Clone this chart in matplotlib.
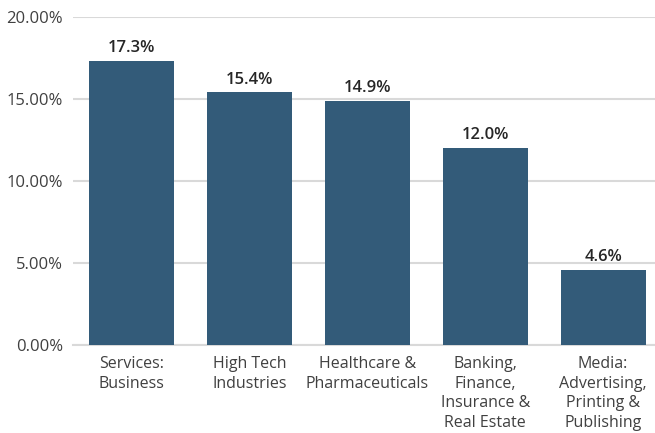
import matplotlib
matplotlib.use('Agg')
import matplotlib.pyplot as plt

categories = ['Services:\nBusiness', 'High Tech\nIndustries', 'Healthcare &\nPharmaceuticals',
              'Banking,\nFinance,\nInsurance &\nReal Estate', 'Media:\nAdvertising,\nPrinting &\nPublishing']
values = [17.3, 15.4, 14.9, 12.0, 4.6]
yticks = [0, 5, 10, 15, 20]

plt.rcParams['font.family'] = ['Open Sans', 'DejaVu Sans']

fig = plt.figure(figsize=(6.55, 4.33), dpi=100)
ax = fig.add_axes([72.5 / 655, 88 / 433, (655 - 72.5) / 655, 328 / 433])

x = range(len(values))
bars = ax.bar(x, values, width=0.72, color='#335b79', zorder=3)
for b, v in zip(bars, values):
    ax.text(b.get_x() + b.get_width() / 2, v + 0.3, '%.1f%%' % v, ha='center', va='bottom',
            fontsize=12, fontweight='semibold', color='#262626')

ax.set_xlim(-0.5, 4.44)
ax.set_ylim(0, 20)
ax.set_yticks(yticks)
ax.set_yticklabels(['%.2f%%' % t for t in yticks], fontsize=12, color='#404040')
ax.set_xticks(list(x))
ax.set_xticklabels(categories, fontsize=11.5, color='#404040', linespacing=1.3)
ax.tick_params(length=0, pad=8)
ax.tick_params(axis='y', pad=7)
ax.grid(axis='y', color='#d9d9d9', linewidth=1.5, zorder=0)
for s in ['top', 'right', 'left']:
    ax.spines[s].set_visible(False)
ax.spines['bottom'].set_color('#d9d9d9')
ax.spines['bottom'].set_linewidth(1.5)

fig.savefig('out.png', dpi=100)
